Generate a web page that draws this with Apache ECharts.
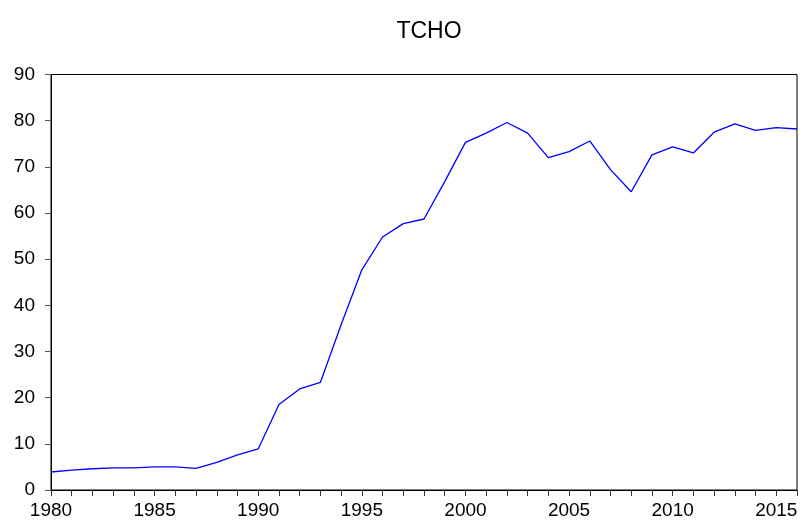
<!DOCTYPE html>
<html>
<head>
<meta charset="utf-8">
<title>TCHO</title>
<script src="https://cdn.jsdelivr.net/npm/echarts@6/dist/echarts.min.js"></script>
<style>
  html, body { margin: 0; padding: 0; background: #fff; }
  #chart { width: 801px; height: 521px; }
</style>
</head>
<body>
<div id="chart"></div>
<script>
  // 年份
  var years = [];
  for (var y = 1980; y <= 2016; y++) years.push(String(y));

  // TCHO 数值
  var tcho = [3.9, 4.3, 4.6, 4.8, 4.8, 5.0, 5.0, 4.7, 6.0, 7.6, 8.9,
              18.5, 21.9, 23.3, 35.8, 47.7, 54.8, 57.7, 58.7, 66.8, 75.3,
              77.3, 79.6, 77.3, 72.0, 73.3, 75.6, 69.4, 64.6, 72.6, 74.3,
              73.0, 77.5, 79.3, 77.9, 78.5, 78.2];

  var yTicks = [0, 10, 20, 30, 40, 50, 60, 70, 80, 90];

  var font = '"Liberation Sans", Arial, Helvetica, sans-serif';
  var myChart = echarts.init(document.getElementById('chart'));

  myChart.setOption({
    animation: false,
    title: {
      text: 'TCHO',
      left: 424,
      textAlign: 'center',
      top: 15,
      textStyle: { fontFamily: font, fontSize: 23, fontWeight: 'normal', color: '#000' }
    },
    grid: {
      left: 51, right: 4, top: 74.5, bottom: 31,
      show: true, borderColor: '#000', borderWidth: 1
    },
    xAxis: {
      type: 'category',
      data: years,
      boundaryGap: false,
      axisLine: { lineStyle: { color: '#000', width: 1 } },
      axisTick: { show: true, interval: 0, length: 6, lineStyle: { color: '#333' } },
      axisLabel: {
        interval: 4, margin: 11,
        fontFamily: font, fontSize: 19, color: '#000'
      },
      splitLine: { show: false }
    },
    yAxis: {
      type: 'value',
      min: yTicks[0],
      max: yTicks[yTicks.length - 1],
      interval: 10,
      axisLine: { show: true, lineStyle: { color: '#000', width: 1 } },
      axisTick: { show: true, length: 6, lineStyle: { color: '#555' } },
      axisLabel: { margin: 16, fontFamily: font, fontSize: 19, color: '#000' },
      splitLine: { show: false }
    },
    series: [
      {
        name: 'TCHO',
        type: 'line',
        data: tcho,
        showSymbol: false,
        symbol: 'none',
        lineStyle: { color: '#0000ff', width: 1.3 }
      }
    ]
  });
</script>
</body>
</html>
